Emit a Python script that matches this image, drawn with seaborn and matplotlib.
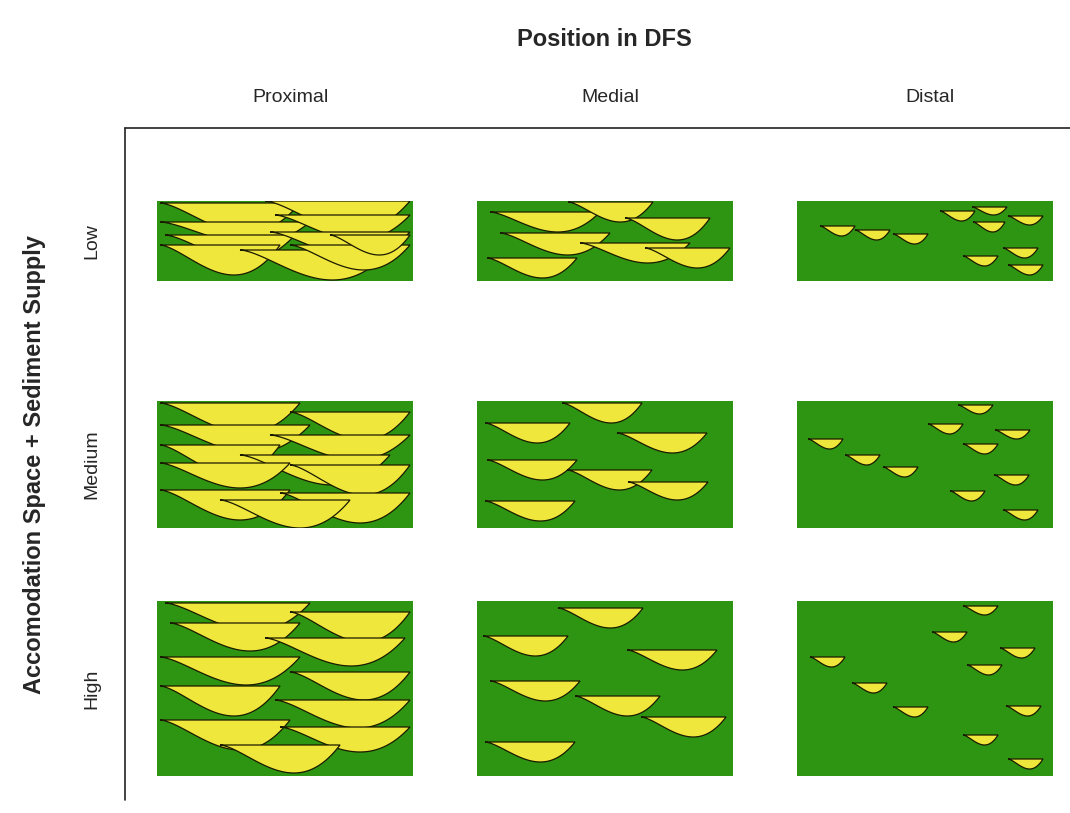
import numpy as np
import matplotlib
matplotlib.use("Agg")
import matplotlib.pyplot as plt
from matplotlib.patches import Polygon, Rectangle
import seaborn as sns

sns.set_theme(style="white")
plt.rcParams['font.family'] = ['Liberation Sans', 'DejaVu Sans']

columns = ["Proximal", "Medial", "Distal"]
rows = ["Low", "Medium", "High"]

# panel boxes (left, top, width, height) in pixels
col_left = [157, 477, 797]
col_width = 256
row_top = [201, 401, 601]
row_height = [80, 127, 175]

# channel bodies: (left, top, width, depth) in pixels
proximal_low = [(160, 203, 140, 30), (265, 201, 145, 30), (160, 222, 150, 22), (275, 215, 135, 25),
                (165, 235, 130, 25), (270, 232, 140, 25), (160, 245, 120, 30), (240, 250, 150, 30),
                (290, 245, 120, 25), (330, 235, 80, 20)]
medial_low = [(490, 212, 110, 20), (568, 202, 85, 20), (625, 218, 85, 22), (500, 233, 110, 22),
              (580, 243, 110, 20), (645, 248, 85, 20), (487, 258, 90, 20)]
distal_low = [(820, 226, 35, 10), (855, 230, 35, 10), (893, 234, 35, 10), (940, 211, 35, 10),
              (972, 207, 35, 8), (1008, 216, 35, 9), (973, 222, 32, 10), (1003, 248, 35, 10),
              (963, 256, 35, 10), (1008, 265, 35, 10)]
proximal_medium = [(160, 403, 140, 30), (290, 412, 120, 28), (160, 425, 150, 28), (270, 435, 140, 25),
                   (160, 445, 120, 30), (240, 455, 150, 30), (160, 463, 130, 25), (290, 465, 120, 30),
                   (160, 490, 130, 30), (280, 493, 130, 30), (220, 500, 130, 28)]
medial_medium = [(485, 423, 85, 20), (562, 403, 80, 20), (617, 433, 90, 20), (487, 460, 90, 20),
                 (567, 470, 85, 20), (628, 482, 80, 18), (485, 501, 90, 20)]
distal_medium = [(808, 439, 35, 10), (845, 455, 35, 10), (883, 467, 35, 10), (958, 405, 35, 9),
                 (928, 424, 35, 10), (995, 430, 35, 9), (963, 444, 35, 10), (994, 475, 35, 10),
                 (950, 491, 35, 10), (1003, 510, 35, 10)]
proximal_high = [(165, 603, 145, 28), (290, 612, 120, 30), (170, 623, 130, 28), (265, 638, 140, 28),
                 (160, 657, 140, 28), (290, 672, 120, 28), (160, 686, 120, 30), (275, 700, 135, 28),
                 (160, 720, 130, 30), (280, 727, 130, 25), (220, 745, 120, 28)]
medial_high = [(483, 636, 85, 20), (558, 608, 85, 20), (627, 650, 90, 20), (490, 681, 90, 20),
               (575, 696, 85, 20), (641, 717, 85, 20), (485, 742, 90, 20)]
distal_high = [(810, 657, 35, 10), (852, 683, 35, 10), (893, 707, 35, 10), (963, 606, 35, 9),
               (932, 632, 35, 10), (1000, 648, 35, 10), (967, 665, 35, 10), (1006, 706, 35, 10),
               (963, 735, 35, 10), (1008, 759, 35, 10)]

panels = [[proximal_low, medial_low, distal_low],
          [proximal_medium, medial_medium, distal_medium],
          [proximal_high, medial_high, distal_high]]

GREEN = "#2e9513"
YELLOW = "#f0e73c"


def channel(x0, y0, w, d):
    t = np.linspace(0, 1, 60)
    f = t ** 1.6 * (1 - t)
    f = f / f.max()
    xs = x0 + w * t
    ys = y0 + d * f
    return np.column_stack([np.r_[xs, xs[::-1]], np.r_[ys, np.full_like(xs, y0)]])


fig = plt.figure(figsize=(10.7, 8.13), dpi=100)
ax = fig.add_axes([0, 0, 1, 1])
ax.set_xlim(0, 1070)
ax.set_ylim(813, 0)
ax.axis("off")

# frame
ax.plot([125, 125], [128, 800], color="#222222", lw=1.2)
ax.plot([125, 1070], [128, 128], color="#222222", lw=1.2)

for r in range(3):
    for c in range(3):
        rect = Rectangle((col_left[c], row_top[r]), col_width, row_height[r],
                         facecolor=GREEN, edgecolor="none", zorder=1)
        ax.add_patch(rect)
        for (x0, y0, w, d) in panels[r][c]:
            p = Polygon(channel(x0, y0, w, d), closed=True, facecolor=YELLOW,
                        edgecolor="#1a1a00", lw=0.9, zorder=2)
            ax.add_patch(p)
            p.set_clip_path(rect)

for c, name in enumerate(columns):
    ax.text(col_left[c] + col_width / 2 + 5, 97, name, ha="center", va="center", fontsize=14)
for r, name in enumerate(rows):
    ax.text(92, row_top[r] + row_height[r] / 2, name, ha="center", va="center",
            rotation=90, fontsize=14)

ax.text(604, 40, "Position in DFS", ha="center", va="center", fontsize=17, fontweight="bold")
ax.text(35, 465, "Accomodation Space + Sediment Supply", ha="center", va="center",
        rotation=90, fontsize=17, fontweight="bold")

fig.savefig("out.png", dpi=100)
